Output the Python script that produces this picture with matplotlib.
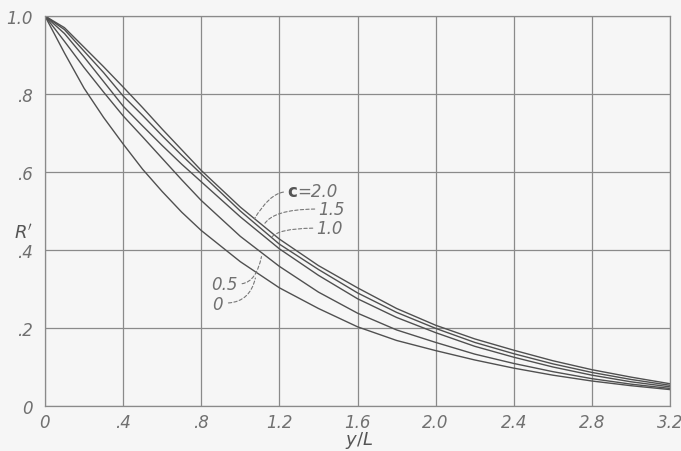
import matplotlib.pyplot as plt

# values
y_over_L = [0, 0.1, 0.2, 0.3, 0.4, 0.5, 0.6, 0.7, 0.8, 1.0, 1.2, 1.4, 1.6, 1.8,
            2.0, 2.2, 2.4, 2.6, 2.8, 3.0, 3.2]
r_c0 = [1.0, 0.905, 0.815, 0.74, 0.672, 0.607, 0.55, 0.497, 0.45, 0.37, 0.303, 0.25,
        0.203, 0.168, 0.142, 0.118, 0.097, 0.079, 0.064, 0.052, 0.042]
r_c05 = [1.0, 0.935, 0.868, 0.805, 0.744, 0.69, 0.635, 0.58, 0.527, 0.435, 0.358, 0.292,
         0.238, 0.195, 0.163, 0.133, 0.109, 0.088, 0.07, 0.056, 0.045]
r_c10 = [1.0, 0.955, 0.895, 0.832, 0.769, 0.718, 0.668, 0.62, 0.575, 0.485, 0.403, 0.335,
         0.275, 0.227, 0.188, 0.153, 0.125, 0.1, 0.079, 0.062, 0.049]
r_c15 = [1.0, 0.965, 0.91, 0.855, 0.795, 0.745, 0.693, 0.643, 0.595, 0.50, 0.415, 0.35,
         0.29, 0.24, 0.199, 0.163, 0.134, 0.108, 0.086, 0.068, 0.053]
r_c20 = [1.0, 0.97, 0.92, 0.87, 0.818, 0.765, 0.71, 0.657, 0.604, 0.51, 0.428, 0.36,
         0.303, 0.25, 0.207, 0.172, 0.143, 0.116, 0.093, 0.074, 0.057]

x_ticks = [0, 0.4, 0.8, 1.2, 1.6, 2.0, 2.4, 2.8, 3.2]
x_ticklabels = ['0', '.4', '.8', '1.2', '1.6', '2.0', '2.4', '2.8', '3.2']
y_ticks = [0, 0.2, 0.4, 0.6, 0.8, 1.0]
y_ticklabels = ['0', '.2', '.4', '.6', '.8', '1.0']

bg = '#f6f6f6'
ink = '#505050'
txt = '#707070'

fig = plt.figure(figsize=(6.81, 4.52), dpi=100, facecolor=bg)
ax = fig.add_axes([0.066, 0.0996, 0.918, 0.8628], facecolor=bg)

for r in [r_c0, r_c05, r_c10, r_c15, r_c20]:
    ax.plot(y_over_L, r, color=ink, lw=1.0)

ax.set_xlim(0, 3.2)
ax.set_ylim(0, 1.0)
ax.set_xticks(x_ticks)
ax.set_yticks(y_ticks)
ax.set_xticklabels(x_ticklabels, fontstyle='italic', color=txt, fontsize=12)
ax.set_yticklabels(y_ticklabels, fontstyle='italic', color=txt, fontsize=12)
ax.tick_params(axis='x', length=0, pad=5)
ax.tick_params(axis='y', length=0, pad=9)
ax.grid(True, color='#8a8a8a', lw=0.9)
for s in ax.spines.values():
    s.set_color('#8a8a8a')
    s.set_linewidth(0.9)

ax.text(0.502, -0.087, '$y/L$', transform=ax.transAxes, fontsize=13, color='#555555',
        ha='center', va='center')
ax.text(-0.11, 0.447, "$R'$", fontsize=13, color='#555555', ha='center', va='center')

# curve labels with dashed leaders
lead = dict(arrowstyle='-', linestyle=(0, (3, 2)), color='#777777', lw=0.8)
ax.text(1.24, 0.551, r'$\mathbf{c}$', fontsize=12, color='#555555', va='center', family='DejaVu Serif')
ax.text(1.29, 0.551, '=2.0', fontsize=12, color=txt, va='center', fontstyle='italic')
ax.annotate('', xy=(1.065, 0.474), xytext=(1.235, 0.549),
            arrowprops=dict(lead, connectionstyle='angle3,angleA=0,angleB=60'))
ax.text(1.40, 0.505, '1.5', fontsize=12, color=txt, va='center', fontstyle='italic')
ax.annotate('', xy=(1.116, 0.459), xytext=(1.395, 0.505),
            arrowprops=dict(lead, connectionstyle='angle3,angleA=0,angleB=70'))
ax.text(1.39, 0.456, '1.0', fontsize=12, color=txt, va='center', fontstyle='italic')
ax.annotate('', xy=(1.152, 0.426), xytext=(1.385, 0.456),
            arrowprops=dict(lead, connectionstyle='angle3,angleA=0,angleB=70'))
ax.text(0.985, 0.313, '0.5', fontsize=12, color=txt, va='center', ha='right', fontstyle='italic')
ax.annotate('', xy=(1.111, 0.39), xytext=(0.995, 0.313),
            arrowprops=dict(lead, connectionstyle='angle3,angleA=0,angleB=80'))
ax.text(0.91, 0.262, '0', fontsize=12, color=txt, va='center', ha='right', fontstyle='italic')
ax.annotate('', xy=(1.08, 0.335), xytext=(0.925, 0.264),
            arrowprops=dict(lead, connectionstyle='angle3,angleA=0,angleB=80'))

fig.savefig('out.png', dpi=100, facecolor=bg)
